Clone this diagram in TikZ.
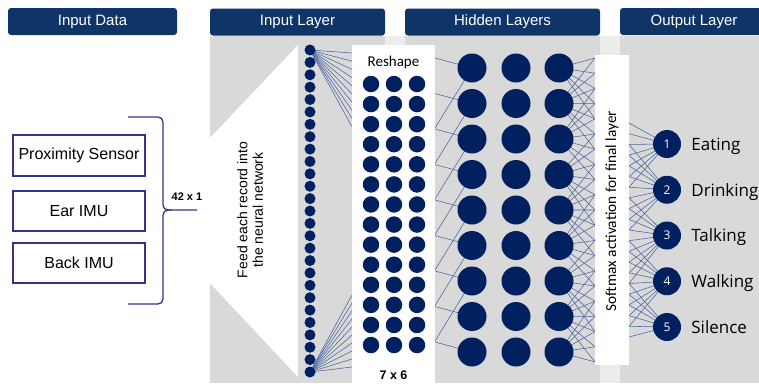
\documentclass[tikz,border=0pt]{standalone}
\usepackage{fontspec}
\setmainfont{Liberation Sans}
\newfontfamily\calfont{Carlito}
\newfontfamily\roundfont{Open Sans}
\usetikzlibrary{positioning}
\definecolor{headblue}{HTML}{0F3468}
\definecolor{dotblue}{HTML}{002060}
\definecolor{wireblue}{HTML}{4A64A0}
\definecolor{panelgray}{HTML}{D9D9D9}
\definecolor{gapgray}{HTML}{EDEDED}
\definecolor{frameblue}{HTML}{34348A}
\pgfdeclarelayer{panel}
\pgfdeclarelayer{wires}
\pgfsetlayers{panel,wires,main}
\tikzset{
    %Define style for title bars
    header/.style={
           rectangle,
           rounded corners=3pt,
           fill=headblue,
           text=white,
           inner sep=0pt,
           minimum height=27pt,
           font=\fontsize{15}{15}\selectfont},
    %Define style for sensor boxes
    sensor/.style={
           rectangle,
           draw=frameblue, line width=1.1pt,
           minimum width=132pt,
           minimum height=40pt,
           font=\fontsize{16}{16}\selectfont},
    %Define style for white boxes
    plain/.style={rectangle, fill=white, inner sep=0pt},
    %Define styles for neurons
    indot/.style={circle, fill=dotblue, inner sep=0pt, minimum size=11pt},
    griddot/.style={circle, fill=dotblue, inner sep=0pt, minimum size=16.5pt},
    hiddot/.style={circle, fill=dotblue, inner sep=0pt, minimum size=29pt},
    outdot/.style={
           circle, fill=dotblue, inner sep=0pt,
           minimum size=28pt,
           text=white,
           font=\roundfont\fontsize{12}{12}\selectfont},
    outlabel/.style={inner sep=0pt, text depth=0pt, font=\roundfont\fontsize{17}{17}\selectfont},
    % Define line styles
    wire/.style={draw=wireblue, line width=0.55pt},
    brace/.style={draw=frameblue, line width=1.3pt, rounded corners=5pt}
}
\begin{document}
\begin{tikzpicture}[x=1pt, y=-1pt]
\useasboundingbox (0,0) rectangle (759,383);

% background panels
\begin{pgfonlayer}{panel}
\fill[panelgray] (210,36) rectangle (759,383);
\fill[gapgray] (385,36) rectangle (405,383);
\fill[gapgray] (600,36) rectangle (620,383);
\fill[white] (210,138) -- (298,45) -- (298,377) -- (210,283) -- cycle;
\end{pgfonlayer}

% title bars
\node[header, minimum width=169pt] (hd-data) at (92.5,21.5) {Input Data};
\node[header, minimum width=175pt] (hd-input) at (297.5,22) {Input Layer};
\node[header, minimum width=195pt] (hd-hidden) at (502.5,22) {Hidden Layers};
\node[header, minimum width=148pt] (hd-output) at (694,21.5) {Output Layer};

% sensors
\node[sensor, minimum height=41pt] (prox) at (79,155.5) {Proximity Sensor};
\node[sensor] (ear) at (79,211) {Ear IMU};
\node[sensor] (back) at (79,263) {Back IMU};
\draw[brace] (128,117) -- (163,117) -- (163,210) -- (197,210);
\draw[brace] (128,304) -- (163,304) -- (163,210) -- (172,210);
\node[font=\bfseries\fontsize{11}{11}\selectfont] (size-in) at (187,197) {42 x 1};

\node[rotate=90, align=center, font=\fontsize{14}{15.5}\selectfont] (feed) at (250,210) {Feed each record into\\the neural network};

% white boxes
\node[plain, minimum width=83pt, minimum height=338pt] (reshape) at (393.5,214) {};
\node[font=\calfont\fontsize{15}{15}\selectfont] (reshape-t) at (393.5,62) {Reshape};
\node[font=\bfseries\fontsize{12.5}{12.5}\selectfont] (grid-t) at (393.5,375) {7 x 6};
\node[plain, minimum width=34pt, minimum height=310pt] (softmax) at (612,210) {};
\node[rotate=90, font=\calfont\fontsize{15.3}{15.3}\selectfont] (softmax-t) at (612,211) {Softmax activation for final layer};

% neurons
\foreach \i in {1,...,27}
    \node[indot] (in-\i) at (310,{50+(\i-1)*12.385}) {};
\foreach \r in {1,...,14}
    \foreach \c/\x in {1/371,2/394,3/417}
        \node[griddot] (rs-\r-\c) at (\x,{84+(\r-1)*20.08}) {};
\foreach \r in {1,...,9}
    \foreach \c/\x in {1/472,2/516,3/559}
        \node[hiddot] (h\c-\r) at (\x,{68+(\r-1)*35.5}) {};
\foreach \k/\lab in {1/Eating,2/Drinking,3/Talking,4/Walking,5/Silence}{
    \node[outdot] (out-\k) at (667,{144+(\k-1)*45.75}) {\k};
    \node[outlabel, right=10pt of out-\k] (lab-\k) {\lab};
}

% connections
\begin{pgfonlayer}{wires}
\foreach \k in {0,...,9}{
    \coordinate (fa-\k) at (352,{53+\k*8.2});
    \coordinate (fb-\k) at (352,{295+\k*8});
    \draw[wire] (in-1.center) -- (fa-\k);
    \draw[wire] (in-27.center) -- (fb-\k);
}
\foreach \j in {1,...,9}{
    \coordinate (ra-\j) at (435,{58+(\j-1)*35.5});
    \draw[wire] (ra-\j) -- (h1-\j.center);
}
\foreach \j in {1,...,7}{
    \coordinate (rb-\j) at (435,{128+(\j-1)*35.5});
    \draw[wire] (rb-\j) -- (h1-\j.center);
}
\foreach \k in {0,...,20}
    \coordinate (sw-\k) at (595,{58+\k*15.2});
\foreach \j in {1,...,9}{
    \pgfmathtruncatemacro\ka{max(0,ceil((35.5*(\j-1)-45)/15.2))}
    \pgfmathtruncatemacro\kb{min(20,floor((35.5*(\j-1)+65)/15.2))}
    \foreach \k in {\ka,...,\kb}
        \draw[wire] (h3-\j.center) -- (sw-\k);
}
\foreach \k in {0,...,20}
    \coordinate (se-\k) at (629,{123+\k*10.7});
\foreach \j in {1,...,5}{
    \pgfmathtruncatemacro\ka{max(0,ceil((21+45.75*(\j-1)-48)/10.7))}
    \pgfmathtruncatemacro\kb{min(20,floor((21+45.75*(\j-1)+48)/10.7))}
    \foreach \k in {\ka,...,\kb}
        \draw[wire] (se-\k) -- (out-\j.center);
}
\end{pgfonlayer}
\end{tikzpicture}
\end{document}
